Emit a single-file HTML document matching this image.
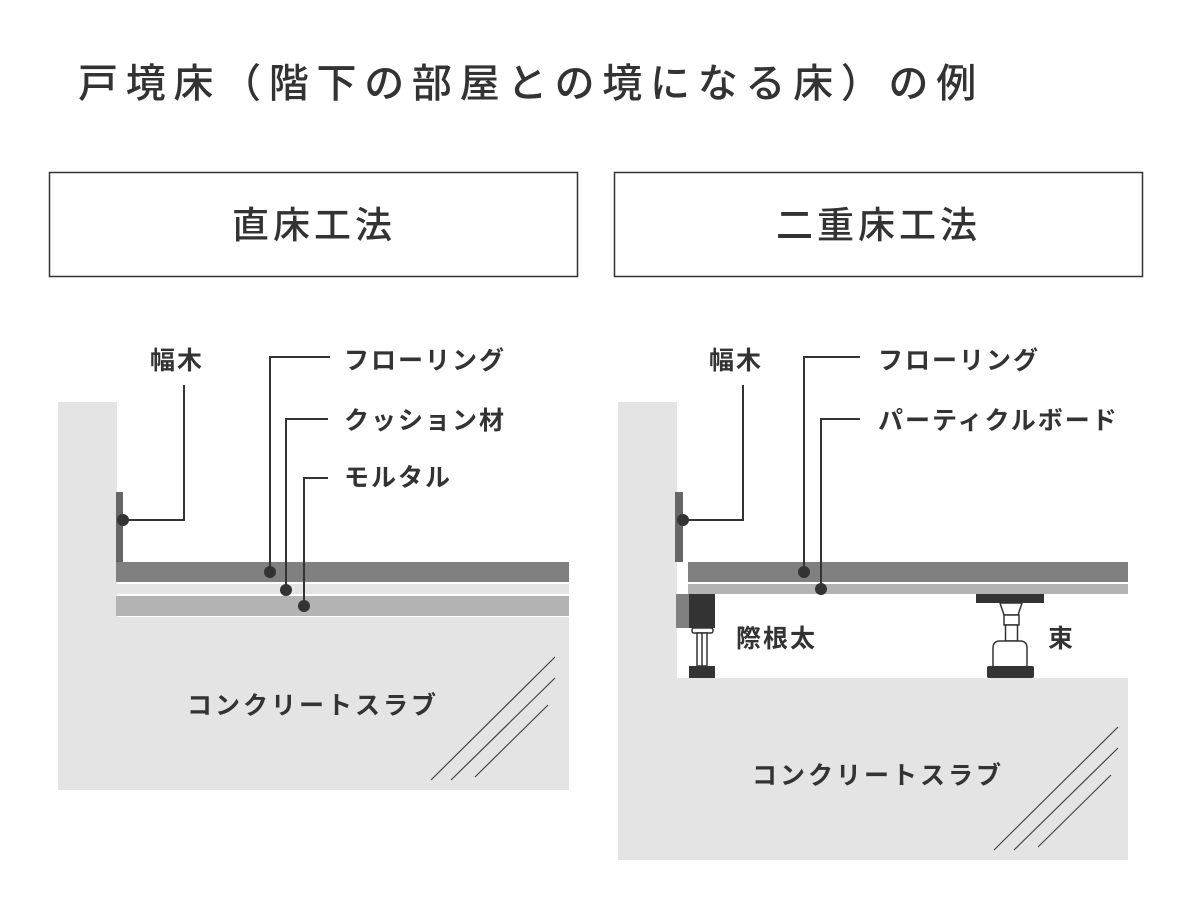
<!DOCTYPE html>
<html><head><meta charset="utf-8"><style>
body{margin:0;background:#fff}
svg text{font-family:"Liberation Sans","Noto Sans CJK JP",sans-serif;fill:#333}
</style></head><body>
<svg width="1200" height="900" viewBox="0 0 1200 900" xmlns="http://www.w3.org/2000/svg">
<text x="78" y="97" font-size="40" font-weight="500" letter-spacing="7.7">戸境床（階下の部屋との境になる床）の例</text>
<rect x="49.5" y="172.5" width="528" height="104" fill="none" stroke="#333" stroke-width="1.5"/>
<rect x="614.5" y="172.5" width="528" height="104" fill="none" stroke="#333" stroke-width="1.5"/>
<text x="232" y="238" font-size="37" font-weight="500" letter-spacing="4">直床工法</text>
<text x="776" y="238" font-size="37" font-weight="500" letter-spacing="4">二重床工法</text>

<!-- Left diagram -->
<rect x="58" y="402" width="59" height="388" fill="#e4e4e4"/>
<rect x="58" y="617" width="511" height="173" fill="#e4e4e4"/>
<rect x="116" y="584" width="453" height="10" fill="#e4e4e4"/>
<rect x="116" y="562" width="453" height="20" fill="#808080"/>
<rect x="116" y="596" width="453" height="20" fill="#b3b3b3"/>
<rect x="116" y="492" width="7" height="70" fill="#666"/>
<g stroke="#444" stroke-width="1.2">
<line x1="431" y1="780" x2="555" y2="657"/>
<line x1="451" y1="780" x2="555" y2="678"/>
<line x1="475" y1="777" x2="548" y2="705"/>
</g>
<g fill="none" stroke="#333" stroke-width="2">
<polyline points="123,520 184,520 184,385"/>
<polyline points="270,572 270,357 330,357"/>
<polyline points="286,590 286,419 328,419"/>
<polyline points="304,606 304,478 328,478"/>
</g>
<g fill="#333">
<circle cx="123" cy="520" r="6"/><circle cx="270" cy="572" r="6"/>
<circle cx="286" cy="590" r="6"/><circle cx="304" cy="606" r="6"/>
</g>
<g font-size="25" font-weight="bold" letter-spacing="2">
<text x="150" y="369">幅木</text>
<text x="344" y="369">フローリング</text>
<text x="344" y="429">クッション材</text>
<text x="344" y="486">モルタル</text>
<text x="187" y="714" letter-spacing="3">コンクリートスラブ</text>
</g>

<!-- Right diagram -->
<rect x="618" y="402" width="59" height="458" fill="#e4e4e4"/>
<rect x="618" y="678" width="510" height="182" fill="#e4e4e4"/>
<rect x="688" y="562" width="440" height="20" fill="#808080"/>
<rect x="688" y="584" width="440" height="10" fill="#b3b3b3"/>
<rect x="675" y="492" width="8" height="70" fill="#666"/>
<rect x="676" y="594" width="13" height="34" fill="#808080"/>
<rect x="689" y="594" width="26" height="34" fill="#333"/>
<rect x="692" y="628" width="21" height="5" rx="2" fill="#fff" stroke="#333" stroke-width="1.5"/>
<rect x="697" y="633" width="10" height="33" fill="#fff" stroke="#333" stroke-width="1.5"/>
<line x1="702" y1="633" x2="702" y2="666" stroke="#333" stroke-width="1.5"/>
<rect x="689" y="666" width="26" height="12" fill="#333"/>
<rect x="976" y="594" width="68" height="9" fill="#333"/>
<path d="M1000,603 L1022,603 L1018,615 L1004,615 Z" fill="#fff" stroke="#333" stroke-width="1.5"/>
<rect x="1004" y="615" width="15" height="10" fill="#fff" stroke="#333" stroke-width="1.5"/>
<rect x="1005.5" y="625" width="12" height="16" fill="#fff" stroke="#333" stroke-width="1.5"/>
<path d="M993,667 L993,648 Q993,641 1000,641 L1020,641 Q1027,641 1027,648 L1027,667" fill="#fff" stroke="#333" stroke-width="1.5"/>
<rect x="987" y="666" width="47" height="12" rx="2" fill="#333"/>
<g stroke="#444" stroke-width="1.2">
<line x1="994" y1="850" x2="1118" y2="727"/>
<line x1="1014" y1="850" x2="1118" y2="748"/>
<line x1="1038" y1="847" x2="1111" y2="775"/>
</g>
<g fill="none" stroke="#333" stroke-width="2">
<polyline points="683,520 743,520 743,385"/>
<polyline points="804,572 804,357 860,357"/>
<polyline points="821,589 821,419 860,419"/>
</g>
<g fill="#333">
<circle cx="683" cy="520" r="6"/><circle cx="804" cy="572" r="6"/><circle cx="821" cy="589" r="6"/>
</g>
<g font-size="25" font-weight="bold" letter-spacing="2">
<text x="709" y="369">幅木</text>
<text x="878" y="369">フローリング</text>
<text x="878" y="429">パーティクルボード</text>
<text x="736" y="647">際根太</text>
<text x="1048" y="647">束</text>
<text x="752" y="784" letter-spacing="3">コンクリートスラブ</text>
</g>
</svg>
</body></html>
